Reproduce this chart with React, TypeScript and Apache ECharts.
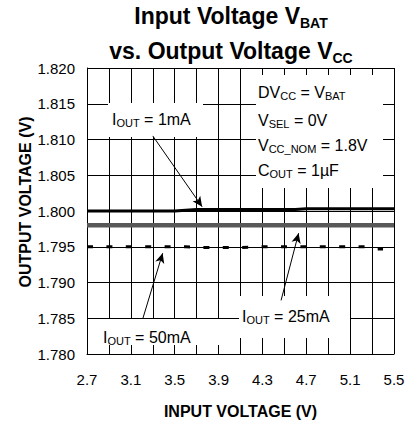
import React, { useEffect, useRef } from 'react';
import * as echarts from 'echarts';

// ---- data (volts) ----
const X_MIN = 2.7;
const X_MAX = 5.5;
const xLabelValues = [2.7, 3.1, 3.5, 3.9, 4.3, 4.7, 5.1, 5.5];
const yLabelValues = [1.78, 1.785, 1.79, 1.795, 1.8, 1.805, 1.81, 1.815, 1.82];

const vin1mA = [2.7, 3.5, 3.7, 4.6, 4.7, 5.5];
const vout1mA = [1.8, 1.8, 1.8002, 1.8002, 1.8003, 1.8003];

const vin25mA = [2.7, 5.5];
const vout25mA = [1.798, 1.798];

const vin50mA = [2.7, 3.6, 3.75, 4.1, 4.3, 5.25, 5.32, 5.4];
const vout50mA = [1.795, 1.795, 1.7949, 1.7949, 1.795, 1.795, 1.7947, 1.7947];

// annotation arrows: [fromV, fromVout, toV, toVout]
const arrow1mA = [3.3, 1.8105, 3.75, 1.8006];
const arrow50mA = [3.21, 1.785, 3.39, 1.7941];
const arrow25mA = [4.47, 1.7875, 4.63, 1.7969];

const FONT = "'Liberation Sans', Arial, sans-serif";

// x is plotted as tenths of a volt above X_MIN so that ticks land on 2.7, 2.9, ...
const toX = (v: number) => Math.round((v - X_MIN) * 1000) / 100;

const pts = (xs: number[], ys: number[]) => xs.map((x, i) => [toX(x), ys[i]]);

const subRich = (main: number, sub: number, pad: number, bold = false) => ({
  m: { fontSize: main, fontFamily: FONT, fill: '#000', fontWeight: bold ? 'bold' : 'normal' },
  s: { fontSize: sub, fontFamily: FONT, fill: '#000', fontWeight: bold ? 'bold' : 'normal', padding: [pad, 0, 0, 0] },
});

const annot = (text: string, x: number, y: number) => ({
  type: 'text',
  z: 3,
  x,
  y,
  style: {
    text,
    rich: subRich(16, 11, 8),
    align: 'left',
    verticalAlign: 'middle',
  },
});

const box = (x: number, y: number, w: number, h: number) => ({
  type: 'rect',
  z: 1,
  shape: { x, y, width: w, height: h },
  style: { fill: '#fff' },
});

export default function App() {
  const ref = useRef<HTMLDivElement>(null);
  useEffect(() => {
    if (!ref.current) return;
    const chart = echarts.init(ref.current, undefined, { renderer: 'svg' });
    const arrowLine = (a: number[]) => [
      { coord: [toX(a[0]), a[1]] },
      { coord: [toX(a[2]), a[3]] },
    ];
    chart.setOption({
      animation: false,
      backgroundColor: '#fff',
      grid: { left: 87, right: 12, top: 68, bottom: 67, containLabel: false, outerBoundsMode: 'none' },
      xAxis: {
        type: 'value',
        min: 0,
        max: toX(X_MAX),
        interval: 2,
        axisLine: { show: true, lineStyle: { color: '#000', width: 1 } },
        axisTick: { show: false },
        splitLine: { show: true, lineStyle: { color: '#000', width: 1 } },
        axisLabel: {
          margin: 18,
          fontSize: 15,
          fontFamily: FONT,
          color: '#000',
          showMinLabel: true,
          showMaxLabel: true,
          formatter: (v: number) => {
            const volts = Math.round((v / 10 + X_MIN) * 10) / 10;
            return xLabelValues.some((t) => Math.abs(t - volts) < 1e-6) ? volts.toFixed(1) : '';
          },
        },
        name: 'INPUT VOLTAGE (V)',
        nameLocation: 'middle',
        nameGap: 49,
        nameTextStyle: { fontSize: 16, fontWeight: 'bold', fontFamily: FONT, color: '#000' },
      },
      yAxis: {
        type: 'value',
        min: yLabelValues[0],
        max: yLabelValues[yLabelValues.length - 1],
        interval: 0.005,
        axisLine: { show: true, lineStyle: { color: '#000', width: 1 } },
        axisTick: { show: false },
        splitLine: { show: true, lineStyle: { color: '#000', width: 1 } },
        axisLabel: {
          margin: 12,
          fontSize: 15,
          fontFamily: FONT,
          color: '#000',
          padding: [9, 0, 0, 0],
          formatter: (v: number) => v.toFixed(3),
        },
      },
      series: [
        {
          name: 'IOUT = 25mA',
          type: 'line',
          showSymbol: false,
          data: pts(vin25mA, vout25mA),
          lineStyle: { color: '#585858', width: 4.5 },
          z: 2,
        },
        {
          name: 'IOUT = 50mA',
          type: 'line',
          showSymbol: false,
          data: pts(vin50mA, vout50mA),
          lineStyle: { color: '#000', width: 3, type: [6, 13.4] },
          z: 2,
        },
        {
          name: 'IOUT = 1mA',
          type: 'line',
          showSymbol: false,
          data: pts(vin1mA, vout1mA),
          lineStyle: { color: '#000', width: 3 },
          z: 3,
          markLine: {
            silent: true,
            symbol: ['none', 'arrow'],
            symbolSize: [7, 10],
            label: { show: false },
            lineStyle: { color: '#000', width: 1, type: 'solid' },
            data: [arrowLine(arrow1mA), arrowLine(arrow50mA), arrowLine(arrow25mA)],
          },
        },
      ],
      graphic: [
        box(108, 103, 95, 34),
        box(256, 75, 127, 113),
        box(90, 319, 147, 26),
        box(239, 296, 111, 42),
        annot('{m|I}{s|OUT}{m| = 1mA}', 112, 119),
        annot('{m|DV}{s|CC}{m| = V}{s|BAT}', 258, 92),
        annot('{m|V}{s|SEL}{m| = 0V}', 258, 120),
        annot('{m|V}{s|CC_NOM}{m| = 1.8V}', 258, 145),
        annot('{m|C}{s|OUT}{m| = 1µF}', 258, 170),
        annot('{m|I}{s|OUT}{m| = 50mA}', 103, 337),
        annot('{m|I}{s|OUT}{m| = 25mA}', 242, 316),
        {
          type: 'text',
          z: 3,
          x: 231,
          y: 16,
          style: {
            text: '{m|Input Voltage V}{s|BAT}',
            rich: subRich(23, 14, 13, true),
            align: 'center',
            verticalAlign: 'middle',
          },
        },
        {
          type: 'text',
          z: 3,
          x: 231,
          y: 51,
          style: {
            text: '{m|vs. Output Voltage V}{s|CC}',
            rich: subRich(23, 14, 13, true),
            align: 'center',
            verticalAlign: 'middle',
          },
        },
        {
          type: 'text',
          z: 3,
          x: 25,
          y: 202,
          rotation: Math.PI / 2,
          style: {
            text: 'OUTPUT VOLTAGE (V)',
            fontSize: 16,
            fontWeight: 'bold',
            fontFamily: FONT,
            fill: '#000',
            align: 'center',
            verticalAlign: 'middle',
          },
        },
      ],
    });
    return () => chart.dispose();
  }, []);
  return (
    <div
      ref={ref}
      style={{ position: 'fixed', left: 0, top: 0, width: 406, height: 421, background: '#fff' }}
    />
  );
}
